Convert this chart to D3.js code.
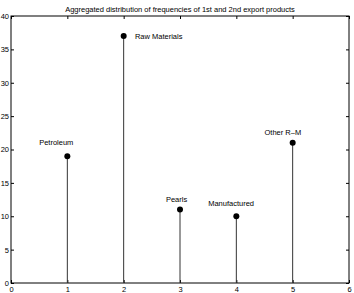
<!DOCTYPE html>
<html><head><meta charset="utf-8">
<script src="https://cdn.jsdelivr.net/npm/d3@7"></script>
<style>body{margin:0;background:#fff}svg{display:block}text{font-family:"Liberation Sans",Arial,sans-serif;fill:#000}</style>
</head><body>
<script>
const categories = ["Petroleum", "Raw Materials", "Pearls", "Manufactured", "Other R\u2013M"];
const xValues = [1, 2, 3, 4, 5];
const frequencies = [19, 37, 11, 10, 21];
const labelX = [0.5, 2.2, 2.75, 3.5, 4.5];
const labelY = [21, 37, 12.6, 12, 22.5];
const xTicks = [0, 1, 2, 3, 4, 5, 6];
const yTicks = [0, 5, 10, 15, 20, 25, 30, 35, 40];
const title = "Aggregated distribution of frequencies of 1st and 2nd export products";

const W = 354, H = 293;
const m = {left: 11, right: 5, top: 16, bottom: 10};
const svg = d3.select("body").append("svg").attr("width", W).attr("height", H);
const x = d3.scaleLinear().domain([0, 6]).range([m.left, W - m.right]);
const y = d3.scaleLinear().domain([0, 40]).range([H - m.bottom, m.top]);

const fs = "7.5px";
// box
svg.append("rect").attr("x", x(0)).attr("y", y(40)).attr("width", x(6) - x(0)).attr("height", y(0) - y(40))
  .attr("fill", "none").attr("stroke", "#000").attr("stroke-width", 1);

function styleAxis(g){ g.select(".domain").remove(); g.selectAll("line").attr("stroke","#000"); g.selectAll("text").style("font-size", fs); }
svg.append("g").attr("transform", `translate(0,${y(0)})`)
  .call(d3.axisBottom(x).tickValues(xTicks).tickSize(-3).tickPadding(4).tickFormat(d3.format("d"))).call(styleAxis);
svg.append("g").attr("transform", `translate(0,${y(40)})`)
  .call(d3.axisTop(x).tickValues(xTicks).tickSize(-3).tickFormat("")).call(styleAxis);
svg.append("g").attr("transform", `translate(${x(0)},0)`)
  .call(d3.axisLeft(y).tickValues(yTicks).tickSize(-3).tickPadding(2).tickFormat(d3.format("d"))).call(styleAxis);
svg.append("g").attr("transform", `translate(${x(6)},0)`)
  .call(d3.axisRight(y).tickValues(yTicks).tickSize(-3).tickFormat("")).call(styleAxis);

svg.append("text").attr("x", (x(0)+x(6))/2).attr("y", 11.5).attr("text-anchor","middle").style("font-size", fs).text(title);

const data = categories.map((c,i)=>({c, x:xValues[i], v:frequencies[i], lx:labelX[i], ly:labelY[i]}));
svg.selectAll(".stem").data(data).enter().append("line")
  .attr("x1", d=>x(d.x)).attr("x2", d=>x(d.x)).attr("y1", y(0)).attr("y2", d=>y(d.v))
  .attr("stroke", "#333").attr("stroke-width", 1);
svg.selectAll(".dot").data(data).enter().append("circle")
  .attr("cx", d=>x(d.x)).attr("cy", d=>y(d.v)).attr("r", 3).attr("fill", "#000");
svg.selectAll(".lab").data(data).enter().append("text")
  .attr("x", d=>x(d.lx)).attr("y", d=>y(d.ly)).attr("dy", "0.35em").style("font-size", fs).text(d=>d.c);
</script>
</body></html>
